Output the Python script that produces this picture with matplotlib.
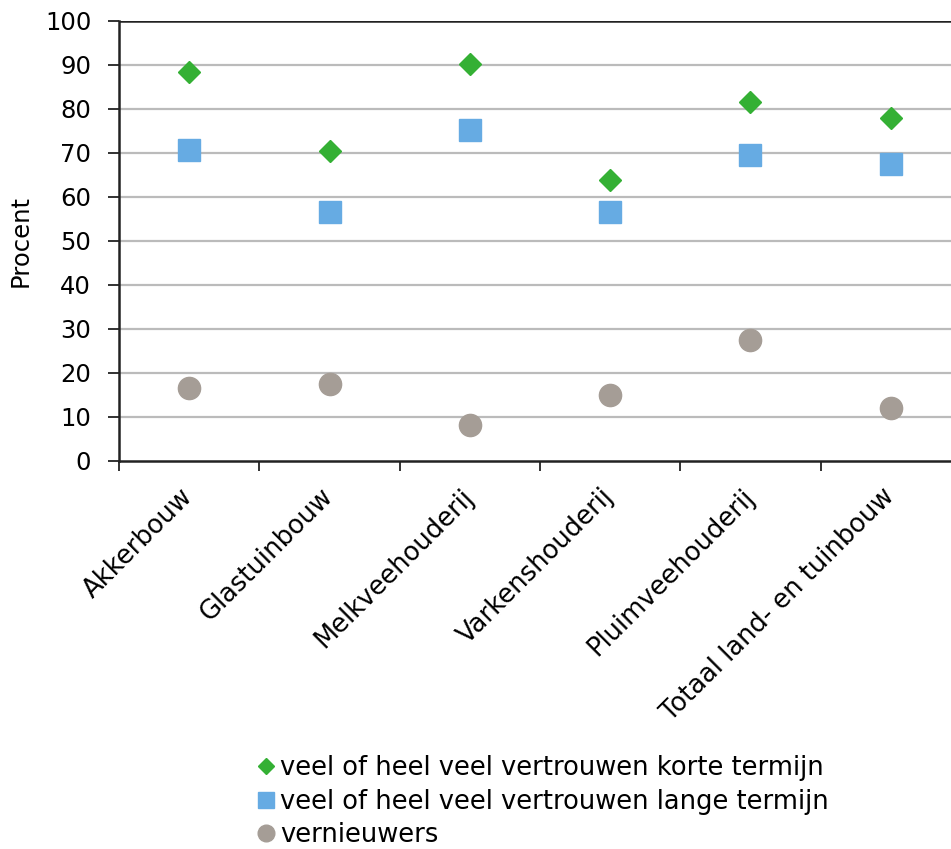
import matplotlib
matplotlib.use("Agg")
import matplotlib.pyplot as plt
import numpy as np

categories = ["Akkerbouw", "Glastuinbouw", "Melkveehouderij", "Varkenshouderij",
              "Pluimveehouderij", "Totaal land- en tuinbouw"]
korte_termijn = [88.4, 70.5, 90.2, 63.9, 81.6, 78.0]
lange_termijn = [70.7, 56.6, 75.2, 56.6, 69.5, 67.5]
vernieuwers = [16.6, 17.5, 8.2, 15.0, 27.5, 12.0]
series_labels = ["veel of heel veel vertrouwen korte termijn",
                 "veel of heel veel vertrouwen lange termijn",
                 "vernieuwers"]
yticks = [0, 10, 20, 30, 40, 50, 60, 70, 80, 90, 100]

plt.rcParams['font.family'] = ['DejaVu Sans']
W, H = 951, 849
fig = plt.figure(figsize=(W / 100, H / 100), dpi=100)
ax = fig.add_axes([119 / W, 1 - 461 / H, (961 - 119) / W, (461 - 21) / H])

x = np.arange(len(categories))
ax.plot(x, korte_termijn, linestyle='none', marker='D', markersize=11.0,
        color='#34B034', label=series_labels[0], zorder=3, clip_on=False)
ax.plot(x, lange_termijn, linestyle='none', marker='s', markersize=15.5,
        color='#66ABE3', label=series_labels[1], zorder=3, clip_on=False)
ax.plot(x, vernieuwers, linestyle='none', marker='o', markersize=16,
        color='#A59D96', label=series_labels[2], zorder=3, clip_on=False)

ax.set_xlim(-0.5, len(categories) - 0.5)
ax.set_ylim(0, 100)
ax.set_yticks(yticks)
ax.set_yticklabels([str(v) for v in yticks], fontsize=17.5)
for v in yticks[1:]:
    ax.axhline(v, color='#BBBBBB' if v < 100 else '#222222', lw=1.6 if v < 100 else 1.8, zorder=1)

ax.set_xticks(np.arange(len(categories) + 1) - 0.5)
ax.set_xticklabels([])
ax.set_xticks(x, minor=True)
ax.set_xticklabels(categories, minor=True, rotation=45, ha='right', va='center',
                   rotation_mode='anchor', fontsize=18.5)
ax.tick_params(axis='x', which='minor', length=0, pad=23)
ax.tick_params(axis='x', which='major', length=7, width=1.3, direction='out', color='#222222')
ax.tick_params(axis='y', length=8, width=1.3, direction='out', color='#222222', pad=12)

for s in ['top', 'right']:
    ax.spines[s].set_visible(False)
for s in ['left', 'bottom']:
    ax.spines[s].set_color('#222222')
    ax.spines[s].set_linewidth(1.8)

ax.set_ylabel("Procent", fontsize=17.5, labelpad=9)

handles, labels = ax.get_legend_handles_labels()
leg = fig.legend(handles, labels, loc='upper left', bbox_to_anchor=(258 / W, 1 - 755 / H),
                 frameon=False, fontsize=18.5, handlelength=0.6, handletextpad=0.25,
                 labelspacing=0.3, markerscale=0.75, borderpad=0, borderaxespad=0)

fig.savefig("out.png", dpi=100)
